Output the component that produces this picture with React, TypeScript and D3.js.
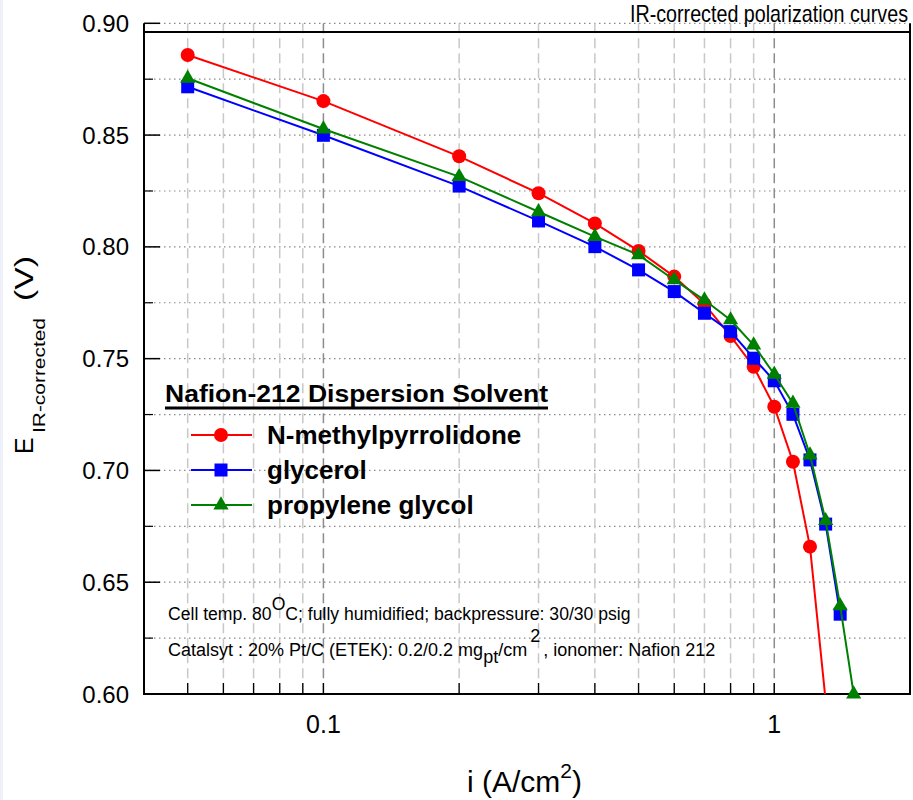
import React from 'react';
import * as d3 from 'd3';

// ---- data ----
const currentDensity = [0.05, 0.1, 0.2, 0.3, 0.4, 0.5, 0.6, 0.7, 0.8, 0.9, 1.0, 1.1, 1.2, 1.3, 1.4, 1.5];
const nmpVoltage = [0.8858, 0.8652, 0.8405, 0.824, 0.8105, 0.7982, 0.7867, 0.7744, 0.7601, 0.7464, 0.7285, 0.7039, 0.6659, 0.597];
const glycerolVoltage = [0.8716, 0.8499, 0.8272, 0.8116, 0.8001, 0.7897, 0.78, 0.7703, 0.7621, 0.7502, 0.7401, 0.7251, 0.7047, 0.676, 0.6357];
const propyleneGlycolVoltage = [0.8754, 0.8527, 0.8314, 0.8157, 0.8046, 0.7964, 0.7852, 0.7762, 0.7673, 0.7561, 0.743, 0.73, 0.7069, 0.6775, 0.6394, 0.6];
const seriesNames = ['N-methylpyrrolidone', 'glycerol', 'propylene glycol'];
const yTickValues = [0.6, 0.65, 0.7, 0.75, 0.8, 0.85, 0.9];
const yTickLabels = ['0.60', '0.65', '0.70', '0.75', '0.80', '0.85', '0.90'];
const yMinorValues = [0.625, 0.675, 0.725, 0.775, 0.825, 0.875];
const xMajorValues = [0.1, 1];
const xTickLabels = ['0.1', '1'];
const xMinorValues = [0.05, 0.06, 0.07, 0.08, 0.09, 0.2, 0.3, 0.4, 0.5, 0.6, 0.7, 0.8, 0.9];

const FONT = "'Liberation Sans', Arial, Helvetica, sans-serif";

export default function App() {
  const W = 913, H = 800;
  const left = 144, right = 910, top = 23.3, bottom = 694, frameTop = 32;
  const x = d3.scaleLog().domain([0.04, 2]).range([left, right]);
  const y = d3.scaleLinear().domain([0.6, 0.9]).range([bottom, top]);

  const series = [
    { name: seriesNames[0], values: nmpVoltage, color: '#ff0000', shape: 'circle' },
    { name: seriesNames[1], values: glycerolVoltage, color: '#0000ff', shape: 'square' },
    { name: seriesNames[2], values: propyleneGlycolVoltage, color: '#008000', shape: 'triangle' },
  ];

  const line = d3.line<[number, number]>().x(d => x(d[0])).y(d => y(d[1]));
  const tri = d3.symbol().type(d3.symbolTriangle).size(100)() as string;

  const marker = (shape: string, color: string, cx: number, cy: number, key: any) => {
    if (shape === 'circle') return <circle key={key} cx={cx} cy={cy} r={7} fill={color} />;
    if (shape === 'square') return <rect key={key} x={cx - 6.5} y={cy - 6.5} width={13} height={13} fill={color} />;
    return <path key={key} d={tri} transform={`translate(${cx},${cy})`} fill={color} />;
  };

  return (
    <svg width={W} height={H} style={{ position: 'absolute', left: 0, top: 0, background: '#fff' }} fontFamily={FONT}>
      <defs>
        <clipPath id="plotClip">
          <rect x={left} y={top - 10} width={right - left} height={bottom - top + 10} />
        </clipPath>
      </defs>
      <rect x={0} y={0} width={W} height={H} fill="#fff" />
      <rect x={0} y={0} width={3} height={H} fill="#eef1fa" />

      {/* horizontal dotted grid */}
      {[...yTickValues.slice(1), ...yMinorValues].map((v, i) => (
        <line key={'hg' + i} x1={left} x2={right - 4} y1={y(v)} y2={y(v)} stroke="#8a8a8a" strokeWidth={1.2} strokeDasharray="1.5 3.5" />
      ))}
      {/* vertical dashed grid */}
      {xMinorValues.map((v, i) => (
        <line key={'vg' + i} x1={x(v)} x2={x(v)} y1={top} y2={bottom} stroke="#c8c8c8" strokeWidth={1.5} strokeDasharray="10 5" />
      ))}
      {xMajorValues.map((v, i) => (
        <line key={'vgM' + i} x1={x(v)} x2={x(v)} y1={top} y2={bottom} stroke="#8c8c8c" strokeWidth={1.5} strokeDasharray="10 5" />
      ))}

      {/* frame */}
      <line x1={left} x2={left} y1={top} y2={bottom + 1} stroke="#000" strokeWidth={2} />
      <line x1={right} x2={right} y1={top} y2={bottom + 1} stroke="#000" strokeWidth={2} />
      <line x1={left} x2={right} y1={frameTop} y2={frameTop} stroke="#000" strokeWidth={2} />
      <line x1={left - 1} x2={right + 1} y1={bottom} y2={bottom} stroke="#000" strokeWidth={2} />

      {/* y ticks */}
      {yTickValues.map((v, i) => (
        <g key={'yt' + i}>
          <line x1={left} x2={left + 16} y1={y(v)} y2={y(v)} stroke="#000" strokeWidth={1.5} />
          <text x={129} y={y(v) + 8.5} textAnchor="end" fontSize={24} fill="#000">{yTickLabels[i]}</text>
        </g>
      ))}
      {yMinorValues.map((v, i) => (
        <line key={'ym' + i} x1={left} x2={left + 9} y1={y(v)} y2={y(v)} stroke="#000" strokeWidth={1.2} />
      ))}
      {/* x ticks */}
      {[...xMinorValues, ...xMajorValues].map((v, i) => (
        <line key={'xt' + i} x1={x(v)} x2={x(v)} y1={bottom} y2={bottom - 11} stroke="#000" strokeWidth={1.3} />
      ))}
      {xMajorValues.map((v, i) => (
        <text key={'xl' + i} x={x(v)} y={733} textAnchor="middle" fontSize={25} fill="#000">{xTickLabels[i]}</text>
      ))}

      {/* series */}
      {series.map((s, si) => {
        const pts = s.values.map((v, i) => [currentDensity[i], v] as [number, number]);
        return (
          <g key={'s' + si}>
            <path d={line(pts) as string} fill="none" stroke={s.color} strokeWidth={2} clipPath="url(#plotClip)" />
            {pts.filter(p => p[1] >= 0.6).map((p, i) => marker(s.shape, s.color, x(p[0]), y(p[1]), i))}
          </g>
        );
      })}

      {/* legend */}
      <text x={165} y={402} fontSize={24} fontWeight="bold" fill="#000" textLength={383} lengthAdjust="spacingAndGlyphs">Nafion-212 Dispersion Solvent</text>
      <rect x={165} y={406.5} width={383} height={3} fill="#000" />
      {series.map((s, i) => {
        const cy = 435 + i * 35;
        return (
          <g key={'lg' + i}>
            <line x1={191} x2={252} y1={cy} y2={cy} stroke={s.color} strokeWidth={2} />
            {marker(s.shape, s.color, 221, cy, 'm')}
            <text x={267} y={cy + 9} fontSize={26} fontWeight="bold" fill="#000">{s.name}</text>
          </g>
        );
      })}

      {/* annotations */}
      <text x={168} y={620} fontSize={17.6} fill="#000">
        Cell temp. 80<tspan dy={-10}>O</tspan><tspan dy={10}>C; fully humidified; backpressure: 30/30 psig</tspan>
      </text>
      <text x={168} y={656} fontSize={18} fill="#000">
        Catalsyt : 20% Pt/C (ETEK): 0.2/0.2 mg<tspan dy={7}>pt</tspan><tspan dy={-7}>/cm</tspan><tspan dx={3} dy={-14}>2</tspan><tspan dx={3} dy={14}>, ionomer: Nafion 212</tspan>
      </text>

      {/* title */}
      <text x={908} y={22} textAnchor="end" fontSize={24} fill="#000" textLength={278} lengthAdjust="spacingAndGlyphs">IR-corrected polarization curves</text>

      {/* axis titles */}
      <text x={467} y={792} fontSize={30} fill="#000">
        i (A/cm<tspan dy={-14} fontSize={21}>2</tspan><tspan dy={14}>)</tspan>
      </text>
      <text transform="translate(33,454) rotate(-90)" fontSize={25} fill="#000">E</text>
      <text transform="translate(45,433) rotate(-90)" fontSize={17} fill="#000" textLength={115} lengthAdjust="spacingAndGlyphs">IR-corrected</text>
      <text transform="translate(33,301) rotate(-90)" fontSize={25} fill="#000" textLength={45} lengthAdjust="spacingAndGlyphs">(V)</text>
    </svg>
  );
}
